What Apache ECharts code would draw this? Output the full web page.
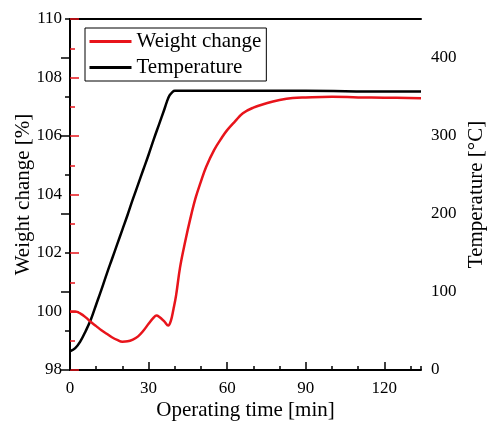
<!DOCTYPE html>
<html>
<head>
<meta charset="utf-8">
<script src="https://cdn.jsdelivr.net/npm/echarts@6/dist/echarts.min.js"></script>
<style>
  html, body { margin: 0; padding: 0; background: #fff; }
  #chart { width: 489px; height: 421px; }
</style>
</head>
<body>
<div id="chart"></div>
<script>
// operating time [min] and readings
const weightTime = [0, 2, 4, 6, 8, 10, 12, 14, 16, 18, 20, 22, 24, 26, 28, 30, 32, 33, 34, 36, 37.5, 38.5, 39.5, 40.5, 42, 44, 46, 48, 50, 52, 55, 58, 60, 63, 66, 70, 75, 80, 85, 90, 100, 110, 120, 134]
const weightChange = [100.0, 100.0, 99.93, 99.8, 99.64, 99.5, 99.36, 99.24, 99.12, 99.03, 98.97, 98.98, 99.04, 99.15, 99.34, 99.58, 99.8, 99.86, 99.82, 99.66, 99.52, 99.68, 100.08, 100.55, 101.5, 102.4, 103.2, 103.9, 104.45, 104.95, 105.52, 105.95, 106.2, 106.5, 106.78, 106.97, 107.12, 107.23, 107.3, 107.32, 107.34, 107.32, 107.31, 107.29]

const tempTime = [0, 2, 4, 6, 8, 10, 12, 14, 16, 18, 20, 22, 24, 26, 28, 30, 32, 34, 36, 37, 38, 39, 40, 45, 60, 90, 120, 134]
const temperature = [24, 28, 37, 50, 65, 84, 103, 123, 142, 161, 180, 199, 219, 238, 257, 276, 296, 315, 334, 344, 352, 356, 358, 358, 358, 358, 357, 357]

const xTicks = [0, 30, 60, 90, 120]

let weightData = []
for (let i = 0; i < weightTime.length; i++) {
    weightData.push([weightTime[i], weightChange[i]])
}
let tempData = []
for (let i = 0; i < tempTime.length; i++) {
    tempData.push([tempTime[i], temperature[i]])
}

const font = 'Liberation Serif'
const red = '#e8141b'

let chart = echarts.init(document.getElementById('chart'))
let option = {
    animation: false,
    backgroundColor: '#fff',
    textStyle: {fontFamily: font, color: '#000'},
    grid: {left: 70, right: 68, top: 19, bottom: 51, containLabel: false, outerBoundsMode: 'none'},
    legend: {
        orient: 'vertical',
        left: 85,
        top: 28,
        padding: [3, 5, 3, 3],
        itemGap: 5,
        itemWidth: 42,
        itemHeight: 14,
        borderColor: '#000',
        borderWidth: 1,
        backgroundColor: '#fff',
        itemStyle: {opacity: 0},
        lineStyle: {width: 3},
        textStyle: {fontFamily: font, fontSize: 21, color: '#000'},
        data: ['Weight change', 'Temperature']
    },
    xAxis: [{
        type: 'value',
        min: 0,
        max: 134,
        interval: 30,
        name: 'Operating time [min]',
        nameLocation: 'middle',
        nameGap: 30,
        nameMoveOverlap: false,
        nameTextStyle: {fontFamily: font, fontSize: 21, color: '#000'},
        splitLine: {show: false},
        axisLine: {lineStyle: {color: '#000', width: 2}},
        axisTick: {inside: true, length: 8, lineStyle: {color: '#000', width: 1.5}},
        axisLabel: {
            fontFamily: font, fontSize: 17, color: '#000', margin: 10,
            showMaxLabel: false,
            formatter: v => xTicks.indexOf(v) >= 0 ? v : ''
        }
    }, {
        type: 'value',
        min: 0,
        max: 134,
        interval: 10,
        position: 'bottom',
        splitLine: {show: false},
        axisLine: {show: false},
        axisTick: {inside: true, length: 4, lineStyle: {color: '#000', width: 1.5}},
        axisLabel: {show: false}
    }, {
        type: 'value',
        min: 0,
        max: 134,
        position: 'top',
        splitLine: {show: false},
        axisLine: {lineStyle: {color: '#000', width: 2}},
        axisTick: {show: false},
        axisLabel: {show: false}
    }],
    yAxis: [{
        type: 'value',
        min: 98,
        max: 110,
        interval: 2,
        position: 'left',
        name: 'Weight change [%]',
        nameLocation: 'middle',
        nameRotate: 90,
        nameGap: 36,
        nameMoveOverlap: false,
        nameTextStyle: {fontFamily: font, fontSize: 21, color: '#000'},
        splitLine: {show: false},
        axisLine: {lineStyle: {color: red, width: 2}},
        axisTick: {inside: true, length: 9, lineStyle: {color: red, width: 1.5}},
        minorTick: {show: true, splitNumber: 2, length: 5, lineStyle: {color: red, width: 1.5}},
        minorSplitLine: {show: false},
        axisLabel: {fontFamily: font, fontSize: 17, color: '#000', margin: 8}
    }, {
        type: 'value',
        min: 0,
        max: 450,
        interval: 100,
        position: 'right',
        name: 'Temperature [°C]',
        nameLocation: 'middle',
        nameRotate: 90,
        nameGap: 45,
        nameMoveOverlap: false,
        nameTextStyle: {fontFamily: font, fontSize: 21, color: '#000'},
        splitLine: {show: false},
        axisLine: {lineStyle: {color: '#000', width: 2}},
        axisTick: {inside: true, length: 9, lineStyle: {color: '#000', width: 1.5}},
        axisLabel: {
            fontFamily: font, fontSize: 17, color: '#000', margin: 10,
            showMaxLabel: false
        }
    }, {
        type: 'value',
        min: 0,
        max: 450,
        interval: 50,
        position: 'right',
        splitLine: {show: false},
        axisLine: {show: false},
        axisTick: {inside: true, length: 5, lineStyle: {color: '#000', width: 1.5}},
        axisLabel: {show: false}
    }],
    series: [{
        name: 'Weight change',
        type: 'line',
        xAxisIndex: 0,
        yAxisIndex: 0,
        symbol: 'none',
        smooth: 0.4,
        lineStyle: {color: red, width: 2.5},
        itemStyle: {color: red},
        data: weightData,
        z: 3
    }, {
        name: 'Temperature',
        type: 'line',
        xAxisIndex: 0,
        yAxisIndex: 1,
        symbol: 'none',
        smooth: 0.4,
        lineStyle: {color: '#000', width: 2.5},
        itemStyle: {color: '#000'},
        data: tempData,
        z: 2
    }]
}
chart.setOption(option)
</script>
</body>
</html>
